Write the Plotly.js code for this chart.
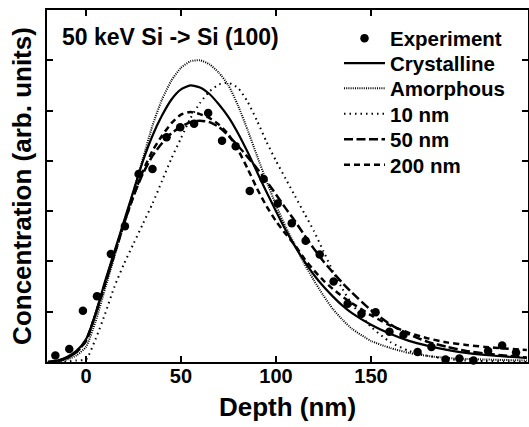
<!DOCTYPE html>
<html>
<head>
<meta charset="utf-8">
<script src="https://cdn.plot.ly/plotly-3.0.1.min.js"></script>
<style>html,body{margin:0;padding:0;background:#fff;}#chart{width:529px;height:427px;}</style>
</head>
<body>
<div id="chart"></div>
<script>
// Experimental points
const expDepth = [-16.1,-8.8,-1.6,5.8,13.1,20.5,27.7,35.0,42.4,49.6,56.9,64.3,71.6,78.8,86.2,93.5,100.9,108.3,115.6,123.0,130.3,137.7,145.0,152.4,159.7,167.1,174.5,181.8,189.2,196.5,203.9,211.6,219.0,226.3];
const expConc  = [0.13,0.26,1.02,1.31,2.15,2.70,3.74,3.84,4.47,4.67,4.74,4.95,4.40,4.29,3.40,3.64,3.15,2.76,2.41,2.14,1.60,1.16,0.96,0.99,0.60,0.54,0.20,0.30,0.05,0.07,0.03,0.22,0.33,0.19];

// Simulated profiles
const simDepth = [-20,-15,-10,-5,0,5,10,15,20,25,30,35,40,45,50,55,60,65,70,75,80,85,90,95,100,105,110,115,120,125,130,135,140,150,160,170,180,190,200,210,220,232];
const crystalline = [0,0.03,0.1,0.22,0.45,0.95,1.6,2.2,2.8,3.4,4.0,4.5,4.9,5.22,5.42,5.5,5.46,5.33,5.12,4.87,4.55,4.18,3.78,3.38,3.0,2.63,2.3,2.0,1.73,1.5,1.3,1.12,0.97,0.74,0.56,0.42,0.32,0.24,0.18,0.14,0.11,0.08];
const amorphous = [0,0.01,0.05,0.13,0.3,0.8,1.45,2.1,2.75,3.4,4.05,4.7,5.22,5.6,5.85,5.98,6.0,5.92,5.75,5.5,5.1,4.62,4.1,3.6,3.12,2.7,2.32,1.95,1.62,1.32,1.05,0.84,0.66,0.42,0.28,0.18,0.12,0.08,0.06,0.05,0.04,0.03];
const nm10 = [0,0,0.01,0.03,0.05,0.45,0.95,1.5,1.95,2.35,2.75,3.15,3.6,4.05,4.45,4.85,5.15,5.38,5.52,5.55,5.45,5.18,4.8,4.38,4.0,3.65,3.3,2.95,2.6,2.2,1.8,1.45,1.15,0.7,0.4,0.22,0.12,0.06,0.03,0.02,0.01,0];
const nm50 = [0,0.02,0.08,0.2,0.42,0.95,1.55,2.15,2.75,3.3,3.75,4.1,4.35,4.55,4.68,4.77,4.8,4.77,4.67,4.5,4.3,4.08,3.85,3.6,3.33,3.06,2.8,2.52,2.25,2.0,1.78,1.57,1.38,1.03,0.75,0.55,0.4,0.3,0.22,0.17,0.13,0.09];
const nm200 = [0,0.02,0.08,0.2,0.42,0.95,1.55,2.15,2.75,3.3,3.8,4.2,4.5,4.75,4.92,4.97,4.93,4.85,4.72,4.52,4.22,3.85,3.45,3.1,2.8,2.55,2.32,2.05,1.82,1.62,1.45,1.3,1.17,0.93,0.73,0.58,0.47,0.39,0.34,0.3,0.27,0.24];

const names = ["Experiment","Crystalline","Amorphous","10 nm","50 nm","200 nm"];
const xTicks = [0,50,100,150];
const annText = "50 keV Si -&gt; Si (100)";

const FONT = "Liberation Sans, Arial, Helvetica, sans-serif";

function lineTrace(y, name, dash, width, leg) {
  return {x: simDepth, y: y, name: name, type: "scatter", mode: "lines",
          line: {color: "black", width: width, dash: dash, shape: "spline", smoothing: 0.6},
          legend: leg, cliponaxis: true};
}

const traces = [
  lineTrace(crystalline, names[1], "solid", 2.2, "legend2"),
  lineTrace(amorphous, names[2], "1px,1.2px", 2, "legend3"),
  lineTrace(nm10, names[3], "1.5px,4px", 2, "legend4"),
  lineTrace(nm50, names[4], "9px,3.5px", 2.5, "legend5"),
  lineTrace(nm200, names[5], "6px,4px", 2.5, "legend6"),
  {x: expDepth, y: expConc, name: names[0], type: "scatter", mode: "markers",
   marker: {color: "black", size: 8.5, symbol: "circle"}, legend: "legend", cliponaxis: false}
];

const plotTop = 10, plotH = 352, plotL = 47, plotW = 481;
const rowPx = [38.3, 63.3, 88.3, 114, 139.3, 165];
const legX = (339 - plotL) / plotW;
function legendAt(i) {
  return {x: legX, xanchor: "left", y: 1 - (rowPx[i] - plotTop) / plotH, yanchor: "middle",
          font: {family: FONT, size: 20.5, color: "black", weight: "bold"},
          bgcolor: "rgba(0,0,0,0)", borderwidth: 0, itemwidth: 41, tracegroupgap: 0};
}

const layout = {
  width: 529, height: 427,
  margin: {l: plotL, r: 1, t: plotTop, b: 65},
  paper_bgcolor: "white", plot_bgcolor: "white",
  font: {family: FONT, color: "black"},
  showlegend: true,
  legend: legendAt(0), legend2: legendAt(1), legend3: legendAt(2),
  legend4: legendAt(3), legend5: legendAt(4), legend6: legendAt(5),
  xaxis: {
    range: [-20.5, 232.6], tickvals: xTicks, ticktext: xTicks.map(String),
    ticks: "inside", ticklen: 6, tickwidth: 2, tickcolor: "black",
    showline: true, linewidth: 2, linecolor: "black", mirror: "ticks",
    showgrid: false, zeroline: false, ticklabelstandoff: -5,
    tickfont: {family: FONT, size: 20, color: "black", weight: "bold"},
    title: {text: "Depth (nm)", font: {family: FONT, size: 26, color: "black", weight: "bold"}, standoff: 12}
  },
  yaxis: {
    range: [0, 7], dtick: 1, tick0: 0, showticklabels: false,
    ticks: "inside", ticklen: 6, tickwidth: 2, tickcolor: "black",
    showline: true, linewidth: 2, linecolor: "black", mirror: "ticks",
    showgrid: false, zeroline: false,
    title: {text: "Concentration (arb. units)", font: {family: FONT, size: 26, color: "black", weight: "bold"}, standoff: 6}
  },
  annotations: [{
    text: annText, xref: "paper", yref: "paper",
    x: (60 - plotL) / plotW, xanchor: "left",
    y: 1 - (37 - plotTop) / plotH, yanchor: "middle",
    showarrow: false, font: {family: FONT, size: 23, color: "black", weight: "bold"}
  }]
};

Plotly.newPlot("chart", traces, layout, {staticPlot: true, displayModeBar: false});
</script>
</body>
</html>
